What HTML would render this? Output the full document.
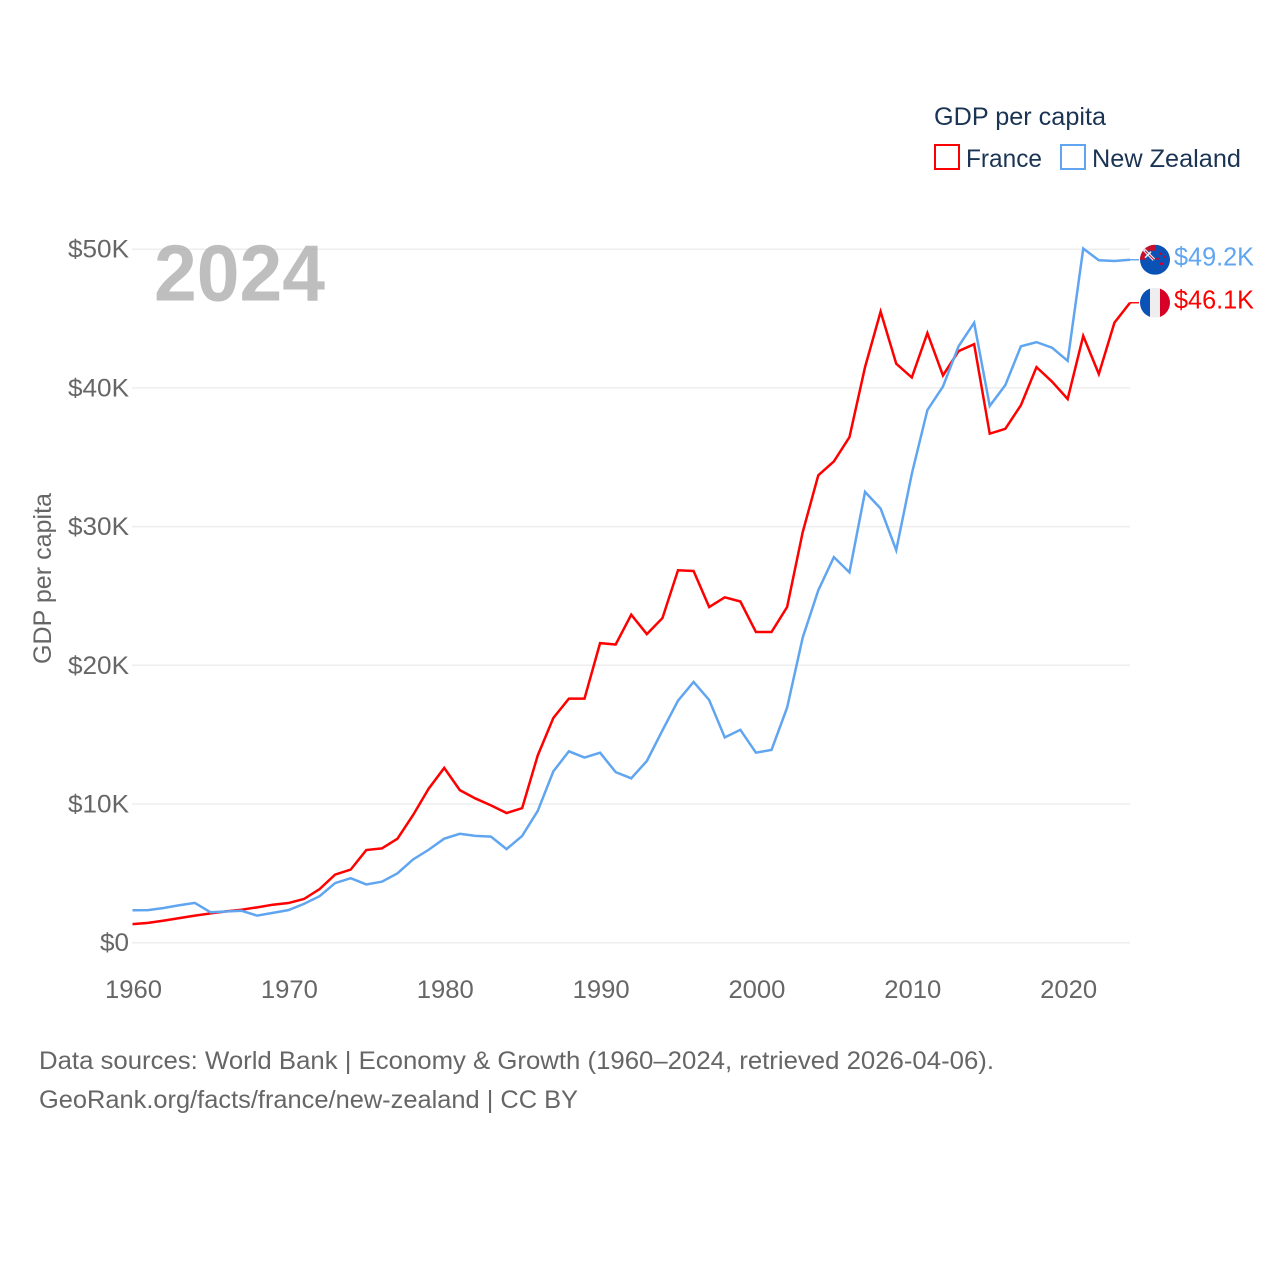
<!DOCTYPE html>
<html lang="en">
<head>
<meta charset="utf-8">
<title>GDP per capita: France vs New Zealand</title>
<style>
  html, body { margin: 0; padding: 0; background: #fff; }
  svg { display: block; font-family: "Liberation Sans", sans-serif; }
</style>
</head>
<body>
<svg id="chart" xmlns="http://www.w3.org/2000/svg" width="1280" height="1280" viewBox="0 0 1280 1280">
  <defs>
    <clipPath id="flag-clip-nz"><circle id="clip-nz" cx="1155" cy="259" r="15"></circle></clipPath>
    <clipPath id="flag-clip-fr"><circle id="clip-fr" cx="1155" cy="302" r="15"></circle></clipPath>
  </defs>
  <rect x="0" y="0" width="1280" height="1280" fill="#ffffff"></rect>
  <g id="grid"></g>
  <g id="y-ticks"></g>
  <g id="x-ticks"></g>
  <text x="154" y="300.5" font-size="80" font-weight="700" fill="#b0b0b0" fill-opacity="0.82" textLength="171" lengthAdjust="spacingAndGlyphs">2024</text>
  <text transform="translate(51,664) rotate(-90)" font-size="25" fill="#666666" textLength="171" lengthAdjust="spacingAndGlyphs">GDP per capita</text>
  <g id="series"></g>
  <g id="flag-nz" clip-path="url(#flag-clip-nz)"></g>
  <g id="flag-fr" clip-path="url(#flag-clip-fr)"></g>
  <g>
    <text x="934" y="125" font-size="25" fill="#1b3454" textLength="172" lengthAdjust="spacingAndGlyphs">GDP per capita</text>
    <rect x="935" y="145" width="24" height="24" fill="none" stroke="#ff0000" stroke-width="2"></rect>
    <text x="966" y="167" font-size="25" fill="#1b3454" textLength="76" lengthAdjust="spacingAndGlyphs">France</text>
    <rect x="1061" y="145" width="24" height="24" fill="none" stroke="#60a5f0" stroke-width="2"></rect>
    <text x="1092" y="167" font-size="25" fill="#1b3454" textLength="149" lengthAdjust="spacingAndGlyphs">New Zealand</text>
  </g>
  <text x="39" y="1069" font-size="25" fill="#666666" textLength="955" lengthAdjust="spacingAndGlyphs">Data sources: World Bank | Economy &amp; Growth (1960–2024, retrieved 2026-04-06).</text>
  <text x="39" y="1108" font-size="25" fill="#666666" textLength="539" lengthAdjust="spacingAndGlyphs">GeoRank.org/facts/france/new-zealand | CC BY</text>
</svg>
<script>
const startYear = 1960;
const franceValues = [1.34,1.43,1.59,1.77,1.95,2.11,2.26,2.38,2.55,2.74,2.86,3.15,3.86,4.91,5.27,6.68,6.8,7.5,9.2,11.1,12.6,11.0,10.4,9.9,9.35,9.7,13.5,16.2,17.6,17.6,21.6,21.5,23.65,22.25,23.4,26.85,26.8,24.2,24.9,24.6,22.4,22.4,24.2,29.6,33.7,34.7,36.45,41.5,45.5,41.75,40.75,43.95,40.9,42.65,43.15,36.7,37.05,38.75,41.5,40.45,39.2,43.75,41.0,44.7,46.14];
const newZealandValues = [2.34,2.35,2.5,2.7,2.87,2.2,2.25,2.3,1.95,2.15,2.35,2.8,3.35,4.3,4.65,4.2,4.4,5.0,6.0,6.7,7.5,7.85,7.7,7.65,6.75,7.7,9.5,12.35,13.8,13.35,13.7,12.3,11.85,13.1,15.3,17.45,18.8,17.5,14.8,15.35,13.7,13.9,16.95,22.0,25.4,27.8,26.7,32.5,31.3,28.3,33.8,38.4,40.1,43.0,44.7,38.7,40.2,43.0,43.3,42.9,41.95,50.05,49.2,49.15,49.24];
const yTickValues = [0,10,20,30,40,50];
const xTickYears = [1960,1970,1980,1990,2000,2010,2020];

const NS = 'http://www.w3.org/2000/svg';
function xScale(year) { return 132.5 + (year - 1960) * (1130 - 132.5) / 64; }
function yScale(k) { return 942.7 - k * 13.87; }
function make(tag, attrs, parent) {
  const el = document.createElementNS(NS, tag);
  for (const key in attrs) el.setAttribute(key, attrs[key]);
  parent.appendChild(el);
  return el;
}
function yLabel(k) { return k === 0 ? '$0' : '$' + k + 'K'; }

const grid = document.getElementById('grid');
const yTicks = document.getElementById('y-ticks');
yTickValues.forEach(function (k) {
  const line = make('line', {x1: 132, x2: 1130, y1: yScale(k), y2: yScale(k), stroke: '#eeeeee', 'stroke-width': 1.5}, grid);
  
  
  const label = make('text', {x: 129, y: yScale(k) + 8.5, 'font-size': 25, fill: '#666666', 'text-anchor': 'end', textLength: k === 0 ? 29 : 61, lengthAdjust: 'spacingAndGlyphs'}, yTicks);
  
  
  label.textContent = yLabel(k);
});

const xTicks = document.getElementById('x-ticks');
xTickYears.forEach(function (year) {
  const label = make('text', {x: xScale(year) + 1, y: 998, 'font-size': 25, fill: '#666666', 'text-anchor': 'middle', textLength: 57, lengthAdjust: 'spacingAndGlyphs'}, xTicks);
  
  
  label.textContent = String(year);
});

const seriesGroup = document.getElementById('series');
function drawSeries(values, color, name) {
  const points = values.map(function (v, i) { return xScale(startYear + i).toFixed(2) + ',' + yScale(v).toFixed(2); }).join(' ');
  const line = make('polyline', {points: points, fill: 'none', stroke: color, 'stroke-width': 2.5, 'stroke-linejoin': 'miter'}, seriesGroup);
  
  
  const last = values[values.length - 1];
  const endY = yScale(last);
  const connector = make('line', {x1: xScale(startYear + values.length - 1), x2: 1139, y1: endY, y2: endY, stroke: color, 'stroke-width': 1.4}, seriesGroup);
  
  
  const label = make('text', {x: 1174, y: endY + 6, 'font-size': 25.5, fill: color, textLength: 80, lengthAdjust: 'spacingAndGlyphs'}, seriesGroup);
  
  
  label.textContent = '$' + last.toFixed(1) + 'K';
}
drawSeries(franceValues, '#ff0000', 'france');
drawSeries(newZealandValues, '#60a5f0', 'new-zealand');

const cx = 1155;
const nzY = yScale(newZealandValues[newZealandValues.length - 1]);
const frY = yScale(franceValues[franceValues.length - 1]);
document.getElementById('clip-nz').setAttribute('cy', nzY);
document.getElementById('clip-fr').setAttribute('cy', frY);

const fr = document.getElementById('flag-fr');
make('rect', {x: cx - 15, y: frY - 15, width: 30, height: 30, fill: '#eeeeee'}, fr);
make('rect', {x: cx - 15, y: frY - 15, width: 10, height: 30, fill: '#0a52b5'}, fr);
make('rect', {x: cx + 5, y: frY - 15, width: 10, height: 30, fill: '#d80027'}, fr);

const nz = document.getElementById('flag-nz');
make('rect', {x: cx - 15, y: nzY - 15, width: 30, height: 30, fill: '#0a52b5'}, nz);
make('rect', {x: cx - 15, y: nzY - 15, width: 15, height: 15, fill: '#c8102e'}, nz);
make('rect', {x: cx - 10, y: nzY - 9, width: 10, height: 9, fill: '#0a52b5'}, nz);
make('line', {x1: cx - 11, y1: nzY - 10, x2: cx - 1, y2: nzY, stroke: '#eeeeee', 'stroke-width': 3.2}, nz);
make('line', {x1: cx - 10, y1: nzY - 9, x2: cx - 1, y2: nzY, stroke: '#c8102e', 'stroke-width': 1}, nz);
make('line', {x1: cx - 10, y1: nzY - 2, x2: cx - 4, y2: nzY - 8, stroke: '#eeeeee', 'stroke-width': 1.6}, nz);
make('circle', {cx: cx + 2.5, cy: nzY - 1, r: 1.3, fill: '#d80027'}, nz);
make('circle', {cx: cx + 6, cy: nzY - 6, r: 1.3, fill: '#d80027'}, nz);
make('circle', {cx: cx + 9.5, cy: nzY - 3, r: 1, fill: '#d80027'}, nz);
make('circle', {cx: cx + 6.5, cy: nzY + 4, r: 1.5, fill: '#d80027'}, nz);
</script>
</body>
</html>
